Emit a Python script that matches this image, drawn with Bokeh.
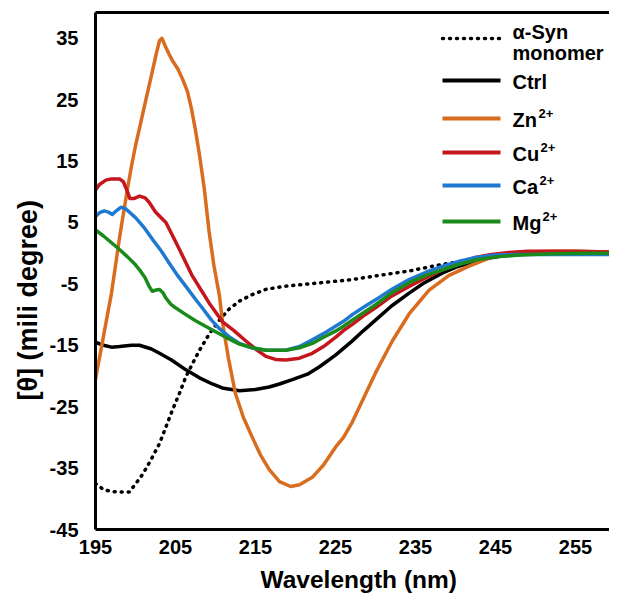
from bokeh.plotting import figure
from bokeh.models import Range1d, FixedTicker, LinearAxis, Title
from bokeh.core.properties import value
from bokeh.embed import file_html
from bokeh.resources import INLINE

# ---------------- data ----------------
mono_x = [195, 196, 197, 198, 199.2, 200, 200.9, 202, 203, 203.8, 204.6, 205.5, 206.3, 207.2, 208, 209.2,
          210.5, 211.7, 213, 214.5, 216.3, 218.5, 220.9, 224, 227.1, 230, 234.2, 238.4, 240.9, 243, 246,
          250, 255, 259.25]
mono_y = [-37.5, -38.5, -38.8, -38.9, -38.9, -37.6, -36.0, -33.5, -31.0, -28.3, -25.6, -22.8, -20.1, -17.8,
          -15.8, -13.2, -10.9, -9.1, -7.8, -6.8, -5.9, -5.4, -5.1, -4.7, -4.3, -3.7, -2.9, -1.8, -1.3, -0.8,
          -0.3, 0.0, 0.1, 0.1]

ctrl_x = [195, 196, 197, 198, 199.5, 200.5, 202, 203, 204.5, 206.3, 208, 209.6, 211, 213, 215, 216.7, 218,
          219.6, 221.5, 223, 225, 227, 228.5, 230, 232, 234.2, 236, 238.4, 240, 241.7, 243, 244.6, 246, 248,
          250, 253, 256, 259.25]
ctrl_y = [-14.5, -15.0, -15.3, -15.2, -15.0, -15.0, -15.6, -16.3, -17.4, -19.0, -20.3, -21.3, -22.0, -22.4,
          -22.2, -21.8, -21.3, -20.6, -19.7, -18.5, -16.6, -14.4, -12.6, -10.9, -8.6, -6.5, -4.9, -3.2, -2.3,
          -1.6, -1.1, -0.7, -0.4, -0.2, -0.1, 0.0, 0.0, 0.0]

zn_x = [195, 196, 196.3, 197, 198, 199, 199.5, 200, 200.7, 201.3, 202, 202.6, 203, 203.3, 203.7, 204.2,
        204.6, 205.3, 205.9, 206.5, 207, 207.5, 208, 208.6, 209.2, 209.8, 210.5, 210.9, 211.6, 212.5, 213.5,
        214.6, 215.6, 216.7, 218, 219.4, 220.5, 222.1, 223.5, 225, 226, 227.1, 228, 230, 232.1, 234.2, 236.7,
        239.2, 241.7, 244.6, 246.5, 248.8, 252, 255, 259.25]
zn_y = [-20.5, -13.5, -11.4, -6.5, 2.5, 10.5, 14.2, 17.5, 21.5, 25.0, 29.0, 32.5, 34.6, 35.0, 33.8, 32.4,
        31.4, 30.0, 28.3, 26.3, 23.5, 20.0, 16.0, 10.5, 3.5, -2.0, -7.0, -11.5, -17.0, -22.9, -26.8, -30.0,
        -32.8, -35.2, -37.2, -38.0, -37.7, -36.5, -34.5, -31.6, -30.0, -27.5, -25.0, -19.5, -14.3, -9.9,
        -6.0, -3.6, -2.1, -0.6, 0.0, 0.2, 0.3, 0.3, 0.2]

cu_x = [195, 195.5, 196.3, 197, 198, 198.5, 199, 199.3, 199.8, 200.5, 201.2, 201.7, 202.5, 203.8, 204.5,
        205.5, 207.1, 208.2, 209.2, 210.9, 212.3, 213.8, 215, 216.3, 217.5, 218.8, 220.5, 222.1, 223.5, 225,
        226, 227.1, 228.5, 230, 232, 234.2, 236.3, 238.4, 240.5, 242.5, 244.5, 246.7, 249, 252, 255, 259.25]
cu_y = [10.3, 11.2, 11.9, 12.1, 12.1, 11.6, 10.0, 8.9, 8.9, 9.3, 9.0, 8.3, 6.7, 5.0, 3.2, 0.6, -3.7, -6.0,
        -8.1, -11.2, -12.6, -14.3, -15.6, -16.8, -17.3, -17.4, -17.1, -16.3, -15.2, -13.7, -12.6, -11.6,
        -10.2, -8.9, -7.0, -5.4, -4.0, -2.7, -1.6, -0.7, -0.2, 0.1, 0.3, 0.3, 0.3, 0.2]

ca_x = [195, 195.5, 196.1, 196.6, 197.1, 197.6, 198.2, 198.8, 200, 201, 202.1, 203.2, 204.2, 205.3, 206.3,
        207.5, 208.4, 209.5, 210.5, 211.7, 213, 214.5, 216.3, 218.8, 220.5, 222.1, 223.5, 225, 226, 227.1,
        228.5, 230, 232, 234.2, 236.3, 238.4, 240.5, 242.5, 245, 248, 252, 256, 259.25]
ca_y = [6.0, 6.6, 6.9, 6.7, 6.3, 6.9, 7.5, 7.2, 5.8, 4.3, 2.3, 0.4, -1.6, -3.7, -5.4, -7.5, -9.0, -10.9,
        -12.3, -13.6, -14.7, -15.4, -15.8, -15.8, -15.2, -14.1, -13.1, -11.9, -11.1, -10.0, -8.8, -7.6, -5.9,
        -4.3, -3.1, -2.1, -1.3, -0.7, -0.3, -0.2, -0.2, -0.2, -0.2]

mg_x = [195, 196, 197, 198, 199, 200, 200.5, 201.2, 201.7, 202.1, 202.6, 203, 203.4, 203.8, 204.4, 205,
        206.3, 207.5, 209.6, 211.3, 213, 214.6, 216.3, 218.8, 220.5, 222.1, 223.5, 225, 226, 227.1, 228.5,
        230, 232, 234.2, 236.3, 238.4, 240.5, 242.5, 245, 248, 252, 256, 259.25]
mg_y = [3.8, 2.8, 1.7, 0.6, -0.6, -1.9, -2.7, -4.0, -5.4, -6.2, -6.0, -5.9, -6.4, -7.3, -8.3, -8.9, -10.0,
        -11.0, -12.5, -13.7, -14.8, -15.4, -15.8, -15.8, -15.4, -14.7, -13.7, -12.7, -11.9, -10.9, -9.7,
        -8.4, -6.5, -4.8, -3.6, -2.7, -1.8, -1.1, -0.6, -0.3, -0.1, 0.0, 0.0]

x_ticks = [195, 205, 215, 225, 235, 245, 255]
y_ticks = [-45, -35, -25, -15, -5, 5, 15, 25, 35]
y_tick_labels = ["-45", "-35", "-25", "-15", "-5", "5", "15", "25", "35"]

series_names = ["Ctrl", "Zn", "Cu", "Ca", "Mg"]
series_sup = ["", "2+", "2+", "2+", "2+"]
series_colors = ["#000000", "#D96D1F", "#C4161C", "#2079D0", "#1A8A1A"]
mono_label = ["α-Syn", "monomer"]
x_title = "Wavelength (nm)"
y_title = "[θ] (mili degree)"

# ---------------- layout ----------------
W, H = 609, 605
FL, FT = 95, 12          # frame left / top in canvas px
FB = 529                 # frame bottom
FW, FH = W - FL, FB - FT
X0, X1 = 195, 259.25
Y0, Y1 = -45, 39.2
FONT = value("Liberation Sans")

p = figure(width=W, height=H, output_backend="svg", toolbar_location=None,
           x_range=Range1d(X0, X1), y_range=Range1d(Y0, Y1),
           min_border_left=FL, min_border_top=FT, min_border_bottom=H - FB, min_border_right=0)
p.outline_line_color = None
p.grid.visible = False
p.background_fill_color = "white"
p.border_fill_color = "white"

for ax, ticks in ((p.xaxis[0], x_ticks), (p.yaxis[0], y_ticks)):
    ax.ticker = FixedTicker(ticks=ticks)
    ax.major_tick_in = 0
    ax.major_tick_out = 0
    ax.minor_tick_in = 0
    ax.minor_tick_out = 0
    ax.axis_line_width = 3
    ax.axis_line_color = "black"
    ax.major_label_text_font = "Liberation Sans"
    ax.major_label_text_font_style = "bold"
    ax.major_label_text_font_size = "20px"
    ax.major_label_text_color = "black"

p.yaxis.major_label_overrides = {t: s for t, s in zip(y_ticks, y_tick_labels)}
p.xaxis.major_label_standoff = 10
p.yaxis.major_label_standoff = 17

xtitle = Title(text=x_title, align="left", offset=165, standoff=14,
               text_font="Liberation Sans", text_font_style="bold", text_font_size="24.5px",
               text_color="black")
p.add_layout(xtitle, "below")

ytitle = Title(text=y_title, align="left", offset=129, standoff=8,
               text_font="Liberation Sans", text_font_style="bold", text_font_size="27px",
               text_color="black")
p.add_layout(ytitle, "left")

top = LinearAxis(ticker=FixedTicker(ticks=[]), axis_line_width=3, axis_line_color="black",
                 major_tick_in=0, major_tick_out=0, minor_tick_in=0, minor_tick_out=0,
                 major_label_text_font_size="0px")
p.add_layout(top, "above")

# ---------------- curves ----------------
p.line(mono_x, mono_y, line_color="black", line_width=3.5, line_dash="1 6", line_cap="round")
all_x = [ctrl_x, zn_x, cu_x, ca_x, mg_x]
all_y = [ctrl_y, zn_y, cu_y, ca_y, mg_y]
for xs, ys, c in zip(all_x, all_y, series_colors):
    p.line(xs, ys, line_color=c, line_width=3.5, line_join="round")

# ---------------- legend (page pixel -> data) ----------------
def dx(px):
    return X0 + (px - 8 - FL) / FW * (X1 - X0)

def dy(py):
    return Y1 - (py - 8 - FT) / FH * (Y1 - Y0)

rows = [46, 88, 126, 160, 193, 229]
lx0, lx1, tx = 450, 508, 520
p.line([dx(lx0), dx(lx1)], [dy(rows[0])] * 2, line_color="black", line_width=3.5,
       line_dash="1 6", line_cap="round")
p.text([dx(tx)] * 2, [dy(39), dy(60)], text=mono_label, text_font=FONT, text_font_style="bold",
       text_font_size="20px", text_baseline="middle", text_color="black")
name_w = {"Ctrl": 0, "Zn": 25, "Cu": 27, "Ca": 26, "Mg": 29}
for r, nm, sup, c in zip(rows[1:], series_names, series_sup, series_colors):
    p.line([dx(lx0), dx(lx1)], [dy(r)] * 2, line_color=c, line_width=4)
    p.text([dx(tx)], [dy(r + 1)], text=[nm], text_font=FONT, text_font_style="bold",
           text_font_size="20px", text_baseline="middle", text_color="black")
    if sup:
        p.text([dx(tx + name_w[nm] + 1)], [dy(r - 5)], text=[sup], text_font=FONT,
               text_font_style="bold", text_font_size="13px", text_baseline="middle",
               text_color="black")

open("out.html", "w").write(file_html(p, INLINE))
